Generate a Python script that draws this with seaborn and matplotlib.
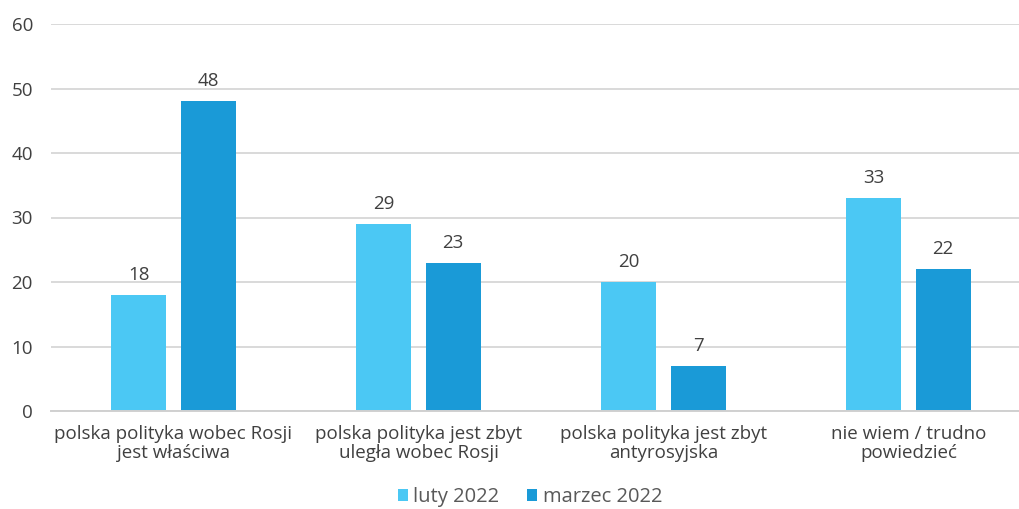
import matplotlib
matplotlib.use("Agg")
import matplotlib.pyplot as plt
import seaborn as sns
import pandas as pd
from matplotlib.patches import Patch

categories = [
    "polska polityka wobec Rosji\njest właściwa",
    "polska polityka jest zbyt\nuległa wobec Rosji",
    "polska polityka jest zbyt\nantyrosyjska",
    "nie wiem / trudno\npowiedzieć",
]
series_names = ["luty 2022", "marzec 2022"]
luty_2022 = [18, 29, 20, 33]
marzec_2022 = [48, 23, 7, 22]
y_ticks = [0, 10, 20, 30, 40, 50, 60]

colors = ["#4BC8F4", "#1A9AD7"]

df = pd.DataFrame({
    "kategoria": categories * 2,
    "seria": [series_names[0]] * 4 + [series_names[1]] * 4,
    "wartosc": luty_2022 + marzec_2022,
})

sns.set_theme(style="white")
plt.rcParams["font.family"] = ["Open Sans", "DejaVu Sans"]

fig = plt.figure(figsize=(10.19, 5.09), dpi=100)
ax = fig.add_axes([51 / 1019, 98 / 509, 980 / 1019, 387 / 509])

sns.barplot(data=df, x="kategoria", y="wartosc", hue="seria",
            palette=colors, width=0.567, gap=0.21, ax=ax,
            saturation=1, legend=False, errorbar=None, linewidth=0)

text_col = "#404040"
for cont in ax.containers:
    ax.bar_label(cont, fmt="%d", padding=8, fontsize=13.5, color=text_col)

ax.set_ylim(0, 60)
ax.set_yticks(y_ticks)
ax.set_xlim(-0.5, 3.5)
ax.yaxis.grid(True, color="#D9D9D9", linewidth=1.4)
ax.set_axisbelow(True)
for s in ["top", "right", "left"]:
    ax.spines[s].set_visible(False)
ax.spines["bottom"].set_color("#D0D0D0")
ax.spines["bottom"].set_linewidth(1.4)
ax.set_xlabel("")
ax.set_ylabel("")
ax.tick_params(axis="both", length=0, colors=text_col, labelsize=13.5)
ax.tick_params(axis="y", pad=13)
ax.tick_params(axis="x", pad=10)
for lab in ax.get_xticklabels():
    lab.set_linespacing(1.05)

handles = [Patch(facecolor=c, edgecolor="none") for c in colors]
fig.legend(handles, series_names, loc="center", bbox_to_anchor=(530 / 1019, 12 / 509),
           ncol=2, frameon=False, fontsize=14.5, labelcolor="#595959",
           handlelength=0.5, handleheight=0.5, handletextpad=0.25, columnspacing=1.4)

fig.savefig("out.png", dpi=100)
